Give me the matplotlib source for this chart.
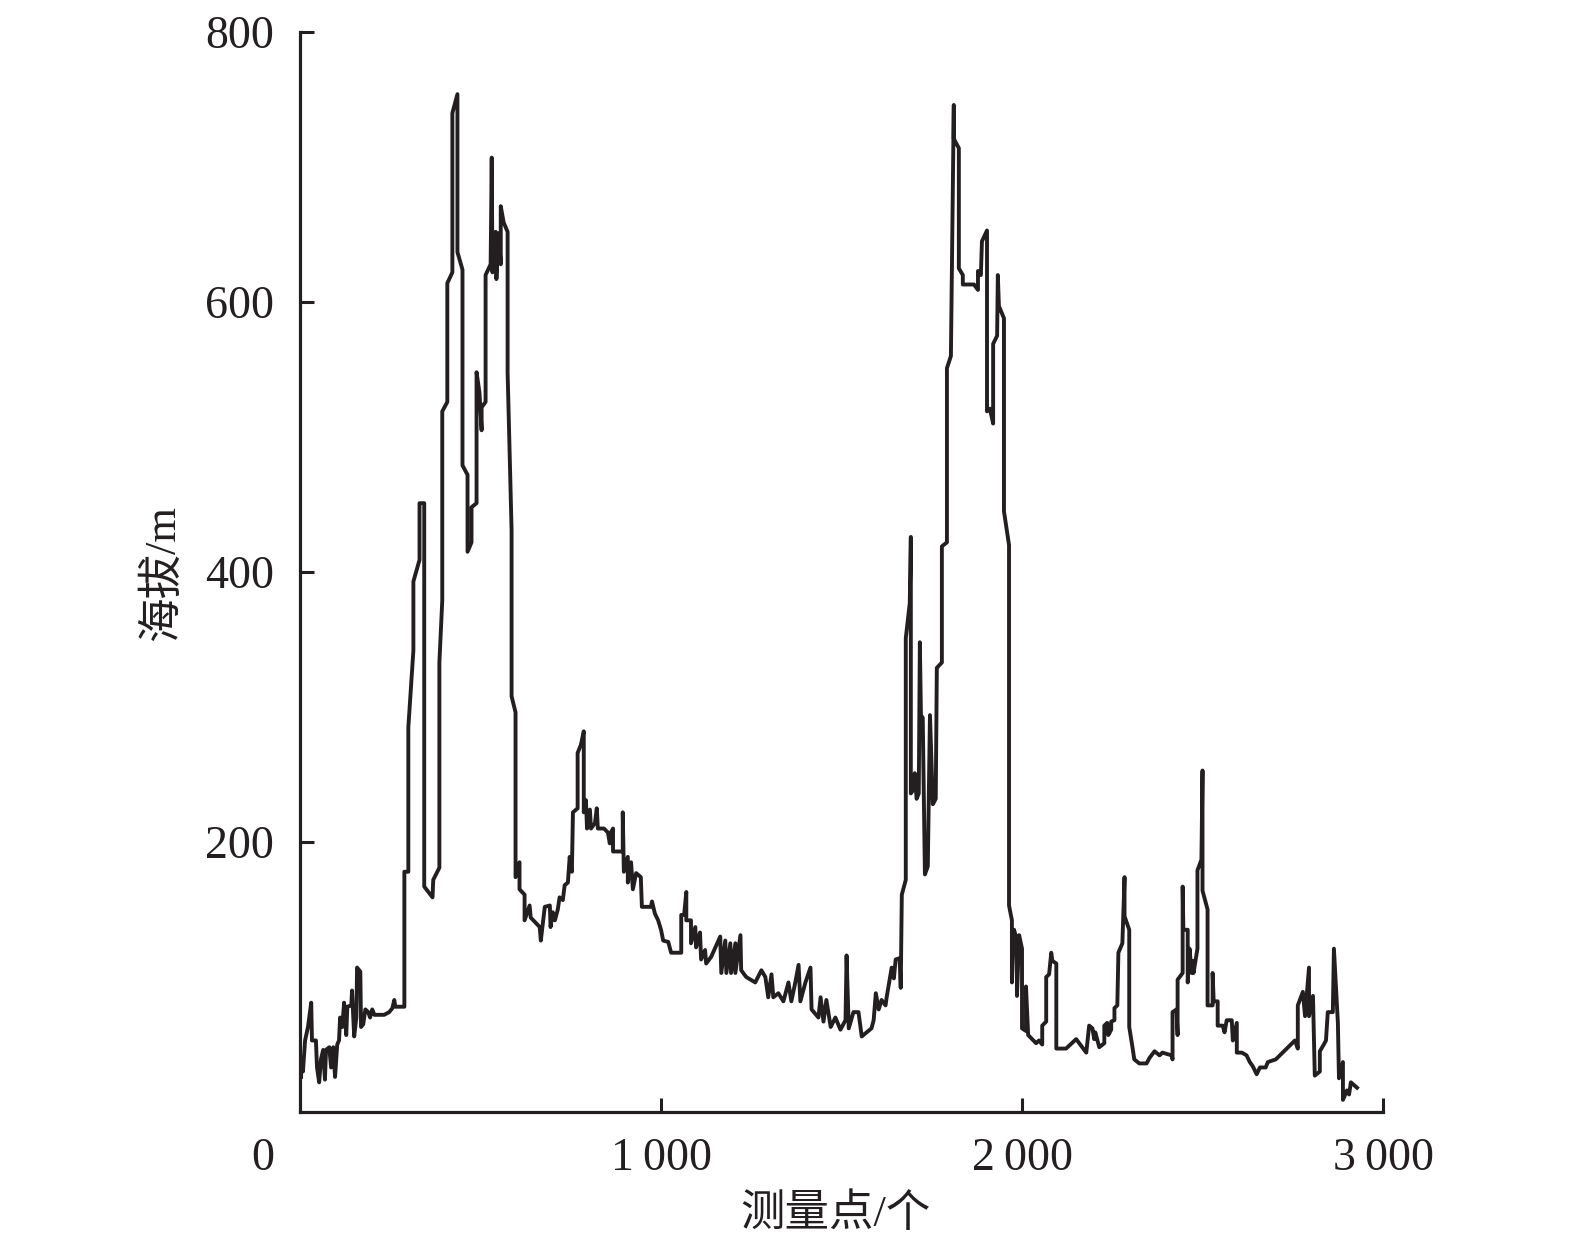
import numpy as np
import matplotlib
matplotlib.use('Agg')
import matplotlib.pyplot as plt

plt.rcParams['font.family'] = ['Liberation Serif', 'Noto Sans CJK SC', 'DejaVu Sans']

seg_start = [(3, 26), (3, 40), (8, 30), (14, 53), (22, 63), (31, 81), (33, 53), (44, 53), (47, 33), (53, 22),
             (58, 39), (64, 46), (69, 24), (72, 46), (81, 48), (86, 33), (92, 48), (97, 26), (103, 50), (108, 53),
             (111, 70), (117, 63), (122, 81), (128, 57), (131, 78), (142, 79), (144, 90), (150, 56), (156, 70), (158, 107),
             (167, 104), (169, 63), (175, 65), (181, 76), (189, 74), (194, 70), (200, 76), (206, 72), (233, 72), (247, 74),
             (256, 77), (261, 83), (264, 78), (289, 78)]

seg_peak1 = [(289, 178), (300, 178), (300, 285), (314, 342), (314, 393), (331, 409), (331, 451), (344, 451), (344, 167), (367, 159),
             (369, 172), (386, 181), (386, 333), (394, 379), (394, 519), (408, 526), (408, 614), (422, 622), (422, 740), (436, 754),
             (436, 637), (450, 624), (450, 479), (464, 472), (464, 415), (475, 422), (475, 448), (489, 451), (489, 548), (497, 533),
             (503, 505), (503, 522), (514, 526), (514, 620), (528, 628), (531, 707), (533, 622), (542, 652), (544, 617), (550, 651),
             (556, 628), (556, 671), (564, 659), (575, 652), (575, 548), (586, 431), (586, 308)]

seg_valley = [(597, 296), (597, 174), (608, 185), (608, 165), (622, 161), (622, 142), (636, 153), (639, 144), (650, 141), (664, 137),
              (667, 127), (678, 152), (692, 153), (694, 137), (700, 148), (706, 142), (714, 150), (719, 159), (728, 157), (733, 168),
              (742, 170), (747, 189), (753, 178), (756, 222), (769, 225), (769, 266), (778, 272), (786, 282), (786, 222), (792, 231),
              (795, 210), (803, 224), (806, 210), (817, 214), (822, 225), (825, 210), (842, 210), (853, 207), (858, 199), (861, 207),
              (867, 210), (867, 193), (894, 193), (894, 222), (897, 178), (908, 189), (908, 170), (917, 185), (922, 165), (931, 177),
              (944, 174), (947, 152), (972, 152), (975, 156), (983, 147), (992, 142), (1000, 135), (1006, 127), (1020, 126), (1028, 118),
              (1056, 118), (1056, 146), (1064, 146), (1070, 163), (1070, 142), (1083, 142), (1083, 125), (1095, 137), (1097, 122), (1108, 133),
              (1111, 113), (1122, 120), (1125, 110), (1139, 115), (1164, 130), (1167, 103), (1178, 127), (1181, 103), (1192, 125), (1194, 103),
              (1206, 125), (1206, 103), (1220, 131), (1222, 105), (1236, 100), (1261, 96), (1278, 105), (1289, 100), (1297, 85), (1306, 102),
              (1311, 85), (1325, 88), (1339, 82), (1353, 96), (1361, 82), (1372, 96), (1381, 109), (1386, 82), (1400, 96), (1414, 107),
              (1417, 76), (1436, 70), (1442, 85), (1450, 67), (1458, 83), (1470, 63), (1483, 70), (1497, 61), (1511, 68), (1514, 116),
              (1520, 62), (1533, 74), (1547, 74), (1556, 56), (1583, 62), (1589, 68), (1595, 88), (1603, 76), (1611, 83), (1622, 79),
              (1625, 85), (1639, 107), (1645, 99), (1650, 113), (1661, 114), (1664, 92), (1667, 161)]

seg_peak2 = [(1678, 172), (1678, 351), (1689, 377), (1692, 426), (1692, 236), (1700, 239), (1703, 251), (1708, 232), (1714, 236), (1717, 348),
             (1720, 294), (1725, 292), (1731, 176), (1739, 182), (1745, 294), (1753, 228), (1761, 232), (1764, 329), (1778, 333), (1778, 419),
             (1792, 422), (1792, 551), (1803, 560), (1806, 631), (1811, 746), (1811, 721), (1825, 714), (1825, 625), (1836, 620), (1836, 613),
             (1867, 613), (1878, 609), (1878, 623), (1886, 620), (1889, 645), (1903, 653), (1903, 519), (1911, 521), (1920, 510), (1920, 569),
             (1931, 575), (1933, 620), (1936, 597), (1950, 588), (1950, 445), (1964, 420)]

seg_tail = [(1964, 153), (1972, 142), (1972, 96), (1978, 135), (1986, 127), (1986, 86), (1992, 131), (2000, 121), (2000, 62), (2011, 60),
            (2011, 93), (2017, 57), (2028, 54), (2039, 51), (2047, 53), (2056, 50), (2056, 64), (2067, 67), (2067, 100), (2075, 102),
            (2081, 118), (2084, 112), (2095, 110), (2095, 47), (2122, 47), (2150, 54), (2178, 44), (2186, 64), (2195, 62), (2200, 54),
            (2203, 59), (2214, 48), (2228, 51), (2228, 64), (2236, 66), (2239, 57), (2247, 61), (2247, 67), (2256, 68), (2256, 77),
            (2264, 79), (2267, 118), (2278, 125), (2284, 174), (2284, 145), (2297, 135), (2297, 63), (2306, 48), (2311, 39), (2325, 36),
            (2345, 36), (2353, 40), (2367, 45), (2381, 42), (2389, 44), (2414, 42), (2417, 39), (2417, 74), (2428, 76), (2431, 57),
            (2431, 98), (2445, 103), (2445, 167), (2447, 135), (2459, 135), (2459, 96), (2464, 121), (2470, 103), (2475, 112), (2475, 103),
            (2486, 121), (2486, 179), (2497, 187), (2500, 253), (2500, 164), (2514, 150), (2514, 79), (2528, 79), (2528, 103), (2531, 82),
            (2542, 82), (2542, 64), (2556, 64), (2561, 59), (2567, 68), (2581, 68), (2584, 53), (2595, 66), (2595, 44), (2609, 44),
            (2622, 42), (2631, 37), (2639, 34), (2650, 28), (2659, 33), (2675, 33), (2681, 37), (2703, 39), (2756, 53), (2764, 47),
            (2764, 79), (2778, 89), (2784, 71), (2795, 107), (2795, 71), (2806, 86), (2811, 27), (2825, 30), (2825, 45), (2836, 50),
            (2842, 53), (2847, 74), (2861, 74), (2864, 121), (2875, 66), (2878, 25), (2889, 37), (2889, 9), (2900, 16), (2906, 13),
            (2911, 22), (2928, 18)]

x_ticks = [1000, 2000, 3000]
x_labels = ['1\u2009000', '2\u2009000', '3\u2009000']
y_ticks = [200, 400, 600, 800]

pts = np.array(seg_start + seg_peak1 + seg_valley + seg_peak2 + seg_tail, dtype=float)

ink = '#231f20'
fig = plt.figure(figsize=(15.75, 12.52), dpi=100)
ax = fig.add_axes([0.1905, 0.1118, 0.6876, 0.8626])
ax.plot(pts[:, 0], pts[:, 1], color=ink, lw=2.8)

ax.set_xlim(0, 3000)
ax.set_ylim(0, 800)
for s in ['top', 'right']:
    ax.spines[s].set_visible(False)
for s in ['left', 'bottom']:
    ax.spines[s].set_linewidth(2.3)
    ax.spines[s].set_color(ink)

ax.set_xticks(x_ticks, labels=x_labels)
ax.set_yticks(y_ticks)
ax.tick_params(direction='in', length=10, width=2.2, labelsize=33, colors=ink)
ax.tick_params(axis='x', pad=18)
ax.tick_params(axis='y', pad=19)

# shared origin label at the corner
ax.annotate('0', xy=(0, 0), xycoords='axes fraction', xytext=(-37, -25),
            textcoords='offset pixels', ha='center', va='top', fontsize=33, color=ink)

fig.text(162 / 1575, 1 - 573 / 1252, '海拔/m', rotation=90, ha='center', va='center',
         fontsize=32, color=ink)
fig.text(835 / 1575, 1 - 1214 / 1252, '测量点/个', ha='center', va='center',
         fontsize=32, color=ink)

fig.savefig('out.png', dpi=100)
